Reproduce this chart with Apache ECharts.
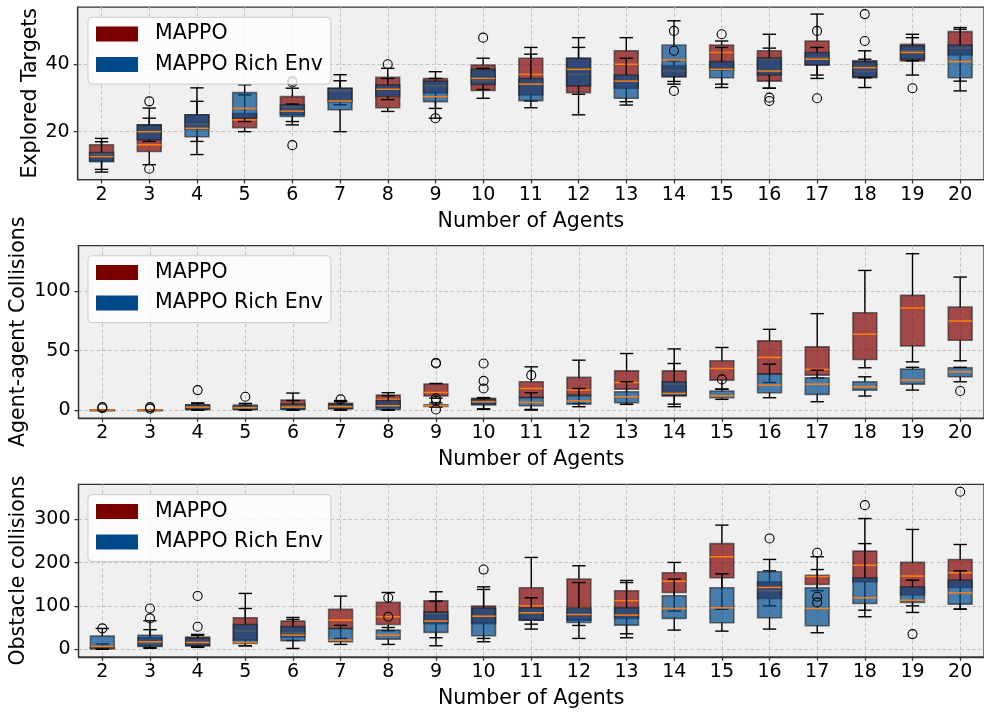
<!DOCTYPE html>
<html>
<head>
<meta charset="utf-8">
<script src="https://cdn.jsdelivr.net/npm/echarts@6/dist/echarts.min.js"></script>
<style>
html, body { margin: 0; padding: 0; background: #ffffff; }
#chart { width: 984px; height: 712px; }
</style>
</head>
<body>
<div id="chart"></div>
<script>
// ---------------- DATA ----------------
const categories = [2, 3, 4, 5, 6, 7, 8, 9, 10, 11, 12, 13, 14, 15, 16, 17, 18, 19, 20];
const seriesNames = ['MAPPO', 'MAPPO Rich Env'];
const xAxisTitle = 'Number of Agents';
const yTitles = ['Explored Targets', 'Agent-agent Collisions', 'Obstacle collisions'];
const yTicksTargets = [20, 40];
const yTicksAgent = [0, 50, 100];
const yTicksObstacle = [0, 100, 200, 300];

// each entry: [whisker low, Q1, median, Q3, whisker high]
const targetsMappo = [
  [8.8, 11.4, 13.4, 16.1, 18.0], [10.2, 14.1, 16.1, 22.0, 27.0], [17.1, 20.8, 22.2, 25.0, 29.0],
  [20.0, 21.2, 23.5, 25.4, 30.9], [22.0, 25.0, 27.4, 30.4, 32.9], [28.0, 28.9, 32.2, 32.9, 35.1],
  [26.0, 27.1, 30.4, 36.1, 38.8], [26.9, 31.5, 33.6, 35.8, 37.8], [29.9, 32.2, 35.0, 39.8, 41.8],
  [29.1, 30.9, 37.0, 41.8, 45.0], [25.0, 31.6, 37.0, 41.8, 47.9], [28.9, 32.9, 40.0, 44.0, 47.9],
  [34.1, 36.3, 38.1, 39.5, 41.0], [34.1, 38.3, 43.5, 45.7, 46.9], [32.9, 35.0, 41.6, 44.0, 48.9],
  [35.8, 39.8, 42.0, 46.9, 54.9], [33.1, 36.0, 38.0, 41.0, 44.0], [36.8, 41.0, 44.0, 45.9, 48.9],
  [35.0, 42.8, 44.8, 49.7, 50.9]
];
const targetsMappoOutliers = [
  [3, 9.0], [6, 16.0], [9, 24.0], [10, 47.9], [14, 44.0], [14, 49.9], [14, 32.1], [15, 48.9],
  [16, 30.1], [16, 29.1], [17, 29.9], [18, 54.9], [18, 46.9], [19, 32.9]
];
const targetsRich = [
  [8.0, 11.1, 12.6, 13.8, 17.0], [17.1, 17.6, 20.0, 22.0, 24.0], [13.2, 18.5, 21.0, 25.0, 33.0],
  [23.0, 24.0, 26.9, 31.6, 33.9], [23.0, 24.5, 26.1, 28.0, 28.2], [20.0, 26.5, 29.1, 32.9, 36.9],
  [29.5, 30.4, 32.6, 33.9, 35.8], [24.0, 28.9, 30.4, 35.0, 35.8], [32.5, 34.0, 35.8, 38.5, 38.8],
  [27.1, 29.2, 34.1, 35.8, 43.0], [31.1, 33.6, 38.5, 41.8, 45.0], [27.9, 29.9, 35.0, 36.8, 41.8],
  [34.9, 36.3, 41.3, 45.7, 52.9], [33.1, 36.0, 38.5, 40.8, 45.0], [32.9, 36.8, 38.0, 41.9, 44.8],
  [36.8, 39.8, 41.5, 43.5, 45.0], [36.0, 36.3, 39.0, 40.8, 41.5], [41.0, 41.5, 43.5, 45.5, 47.9],
  [32.1, 36.0, 40.8, 45.7, 50.4]
];
const targetsRichOutliers = [
  [3, 29.0], [6, 34.6], [6, 35.1], [8, 40.0], [17, 49.9]
];

const agentMappo = [
  [0, 0, 0, 0, 0], [0, 0, 0, 0, 0], [0, 0.5, 2.0, 4.2, 5.6],
  [0, 0.5, 1.5, 3.0, 4.0], [0, 1.0, 3.6, 8.4, 14.3], [0, 1.5, 3.5, 5.6, 8.0],
  [0, 2.0, 9.0, 12.6, 14.6], [10.0, 11.8, 14.8, 21.8, 22.4], [1.0, 5.0, 7.5, 9.8, 10.5],
  [0, 10.6, 18.2, 23.8, 36.4], [5.6, 12.6, 16.8, 27.5, 42.0], [4.8, 17.6, 23.2, 33.0, 47.6],
  [2.8, 12.0, 21.8, 33.0, 51.5], [17.6, 25.2, 35.0, 41.5, 52.7], [23.2, 30.3, 44.3, 58.3, 68.0],
  [27.0, 29.4, 34.2, 53.2, 81.2], [35.6, 42.6, 63.9, 82.0, 117.6], [40.6, 54.0, 86.0, 96.6, 131.7],
  [41.5, 58.8, 75.0, 86.8, 112.0]
];
const agentMappoOutliers = [
  [2, 1.5], [3, 1.2], [7, 9.0], [9, 39.2], [9, 39.8], [10, 39.2], [10, 24.6], [10, 18.2]
];
const agentRich = [
  [0, 0, 0, 0, 0], [0, 0, 0, 0, 0], [0, 0.5, 2.5, 4.5, 6.0],
  [0, 0.5, 2.0, 4.2, 5.6], [0, 0.5, 2.5, 5.0, 8.0], [0, 1.0, 2.8, 5.0, 7.0],
  [0, 0.5, 3.6, 8.0, 12.0], [2.5, 3.0, 3.6, 4.5, 6.0], [0.6, 4.2, 7.0, 9.0, 9.8],
  [0.5, 3.6, 6.4, 10.6, 14.6], [2.8, 5.0, 7.6, 12.0, 18.2], [4.8, 6.2, 11.2, 15.4, 23.8],
  [5.0, 12.0, 14.0, 23.8, 39.2], [9.0, 10.4, 12.0, 16.0, 17.6], [10.4, 14.6, 21.0, 30.3, 38.7],
  [7.0, 13.2, 21.8, 27.2, 33.6], [11.8, 16.8, 19.6, 23.8, 28.0], [16.8, 21.8, 25.2, 34.5, 36.0],
  [23.8, 28.0, 32.2, 35.6, 36.0]
];
const agentRichOutliers = [
  [2, 2.5], [3, 2.5], [4, 16.8], [5, 11.2], [9, 9.8], [9, 7.8], [9, 0.5], [11, 29.4], [15, 25.8], [20, 16.0]
];

const obstacleMappo = [
  [0, 0.5, 3.0, 6.0, 12.0], [2.0, 8.0, 13.0, 27.0, 45.0], [4.0, 8.0, 15.0, 28.0, 34.0],
  [7.7, 20.8, 42.4, 72.5, 128.8], [20.0, 28.0, 37.8, 64.8, 73.2], [24.7, 47.8, 67.0, 91.8, 122.6],
  [42.4, 57.0, 74.8, 108.0, 131.0], [26.2, 59.0, 82.5, 111.8, 132.6], [24.7, 59.0, 77.0, 99.5, 144.0],
  [57.8, 67.0, 100.0, 142.0, 212.0], [24.7, 67.0, 95.6, 162.0, 192.8], [35.5, 71.0, 112.0, 135.0, 158.8],
  [88.0, 131.0, 157.0, 176.6, 200.5], [92.0, 165.0, 213.6, 244.0, 286.8], [100.0, 117.0, 135.0, 155.7, 181.0],
  [135.0, 149.6, 168.0, 171.0, 184.0], [90.0, 155.7, 194.0, 226.7, 302.0], [100.0, 125.0, 168.9, 200.5, 276.8],
  [92.5, 142.6, 176.6, 207.4, 242.0]
];
const obstacleMappoOutliers = [
  [2, 48.0], [3, 71.0], [4, 51.7], [17, 121.0], [17, 108.0], [18, 333.0], [20, 364.0]
];
const obstacleRich = [
  [0, 2.0, 6.2, 30.0, 47.8], [3.0, 6.0, 17.0, 32.0, 65.5], [5.0, 8.0, 15.4, 25.0, 32.0],
  [7.7, 13.0, 15.4, 57.0, 94.0], [1.5, 19.3, 32.4, 52.0, 68.6], [10.8, 17.0, 20.8, 47.8, 55.0],
  [10.8, 23.0, 32.4, 44.0, 50.0], [7.7, 38.6, 64.8, 86.0, 111.0], [17.0, 30.8, 76.0, 95.0, 138.0],
  [46.3, 67.0, 84.0, 95.6, 118.7], [54.7, 61.7, 80.0, 95.6, 154.0], [26.2, 55.5, 78.6, 95.6, 154.0],
  [44.0, 71.0, 94.0, 123.4, 162.0], [41.6, 61.0, 95.6, 142.0, 174.0], [46.3, 72.5, 142.6, 179.0, 207.4],
  [37.8, 54.0, 94.0, 142.0, 213.6], [74.8, 105.6, 118.7, 165.0, 244.0], [84.8, 108.0, 113.0, 144.0, 159.6],
  [92.5, 104.0, 130.0, 159.6, 181.0]
];
const obstacleRichOutliers = [
  [3, 94.0], [4, 123.0], [8, 118.7], [8, 74.8], [10, 184.0], [16, 256.0], [17, 222.8], [19, 34.7]
];

// ---------------- STYLE / LAYOUT ----------------
const FONT = 'DejaVu Sans';
const RED_FILL = 'rgba(128,0,0,0.7)';
const BLUE_FILL = 'rgba(0,74,140,0.7)';
const RED_LEGEND = '#7b0000';
const BLUE_LEGEND = '#004a8c';
const panelTops = [7, 245.5, 484.3];
const panelHeight = 172.5;
const gridLeft = 77.7;
const gridWidth = 911.5;
const yRanges = [[5.8, 57.0], [-6.7, 138.6], [-17.8, 381.2]];
const yNameGaps = [37, 49.5, 49.5];
const yTickSets = [yTicksTargets, yTicksAgent, yTicksObstacle];

function boxRenderer(fill) {
  return function (params, api) {
    const x = api.value(0);
    const pLo = api.coord([x, api.value(1)]);
    const pQ1 = api.coord([x, api.value(2)]);
    const pMed = api.coord([x, api.value(3)]);
    const pQ3 = api.coord([x, api.value(4)]);
    const pHi = api.coord([x, api.value(5)]);
    const band = api.size([1, 0])[0];
    const bw = band * 0.5;
    const cw = band * 0.28;
    const cx = pMed[0];
    const wStyle = { stroke: '#000', lineWidth: 1.4 };
    return {
      type: 'group',
      children: [
        { type: 'rect', shape: { x: cx - bw / 2, y: pQ3[1], width: bw, height: Math.max(pQ1[1] - pQ3[1], 0.5) },
          style: { fill: fill, stroke: 'rgba(30,30,30,0.6)', lineWidth: 1.6 } },
        { type: 'line', shape: { x1: cx, y1: pQ3[1], x2: cx, y2: pHi[1] }, style: wStyle },
        { type: 'line', shape: { x1: cx, y1: pQ1[1], x2: cx, y2: pLo[1] }, style: wStyle },
        { type: 'line', shape: { x1: cx - cw / 2, y1: pHi[1], x2: cx + cw / 2, y2: pHi[1] }, style: wStyle },
        { type: 'line', shape: { x1: cx - cw / 2, y1: pLo[1], x2: cx + cw / 2, y2: pLo[1] }, style: wStyle },
        { type: 'line', shape: { x1: cx - bw / 2, y1: pMed[1], x2: cx + bw / 2, y2: pMed[1] },
          style: { stroke: '#ff7f0e', lineWidth: 1.5 } }
      ]
    };
  };
}

function boxSeries(name, stats, g, fill, legendColor) {
  return {
    name: name,
    type: 'custom',
    xAxisIndex: g,
    yAxisIndex: g,
    renderItem: boxRenderer(fill),
    itemStyle: { color: legendColor },
    encode: { x: 0, y: [1, 2, 3, 4, 5] },
    data: stats.map((s, i) => [categories[i]].concat(s)),
    clip: false,
    silent: true
  };
}

function outlierSeries(name, pts, g) {
  return {
    name: name,
    type: 'scatter',
    xAxisIndex: g,
    yAxisIndex: g,
    symbol: 'circle',
    symbolSize: 9,
    itemStyle: { color: 'rgba(0,0,0,0)', borderColor: '#000', borderWidth: 1.1, opacity: 1 },
    data: pts,
    silent: true
  };
}

const panels = [
  [targetsMappo, targetsMappoOutliers, targetsRich, targetsRichOutliers],
  [agentMappo, agentMappoOutliers, agentRich, agentRichOutliers],
  [obstacleMappo, obstacleMappoOutliers, obstacleRich, obstacleRichOutliers]
];

const grids = [], xAxes = [], yAxes = [], legends = [], series = [];
const dash = { color: '#bdbdbd', width: 0.9, type: [3.5, 2.5] };
const axisLineStyle = { color: '#333333', width: 1.25 };

panels.forEach((p, g) => {
  grids.push({
    left: gridLeft, top: panelTops[g], width: gridWidth, height: panelHeight,
    show: true, backgroundColor: '#f0f0f0', borderColor: '#333333', borderWidth: 1.25
  });
  xAxes.push({
    type: 'value', gridIndex: g, min: 1.5, max: 20.5, splitNumber: 19,
    name: xAxisTitle, nameLocation: 'middle', nameGap: 31.5, nameMoveOverlap: false,
    nameTextStyle: { fontFamily: FONT, fontSize: 20.5, color: '#000' },
    axisLine: { show: true, onZero: false, lineStyle: axisLineStyle },
    axisTick: { show: true, length: 4, lineStyle: axisLineStyle, customValues: categories },
    axisLabel: { fontFamily: FONT, fontSize: 19, color: '#000', margin: 6, customValues: categories },
    splitLine: { show: true, lineStyle: dash }
  });
  yAxes.push({
    type: 'value', gridIndex: g, min: yRanges[g][0], max: yRanges[g][1], splitNumber: 3,
    name: yTitles[g], nameLocation: 'middle', nameGap: yNameGaps[g], nameMoveOverlap: false,
    nameTextStyle: { fontFamily: FONT, fontSize: 20.5, color: '#000' },
    axisLine: { show: true, onZero: false, lineStyle: axisLineStyle },
    axisTick: { show: true, length: 4, lineStyle: axisLineStyle, customValues: yTickSets[g] },
    axisLabel: { fontFamily: FONT, fontSize: 19, color: '#000', margin: 8, customValues: yTickSets[g] },
    splitLine: { show: true, lineStyle: dash }
  });
  legends.push({
    left: 88, top: panelTops[g] + 10.3, orient: 'vertical',
    icon: 'rect', itemWidth: 42, itemHeight: 15, itemGap: 9.5,
    padding: [6.3, 8, 9, 8],
    backgroundColor: 'rgba(255,255,255,0.8)', borderColor: '#cccccc', borderWidth: 1, borderRadius: 4,
    textStyle: { fontFamily: FONT, fontSize: 20.5, color: '#000', padding: [0, 0, 0, 12] },
    selectedMode: false,
    data: [
      { name: seriesNames[0], itemStyle: { color: RED_LEGEND } },
      { name: seriesNames[1], itemStyle: { color: BLUE_LEGEND } }
    ]
  });
  series.push(boxSeries(seriesNames[0], p[0], g, RED_FILL, RED_LEGEND));
  series.push(outlierSeries(seriesNames[0] + ' outliers', p[1], g));
  series.push(boxSeries(seriesNames[1], p[2], g, BLUE_FILL, BLUE_LEGEND));
  series.push(outlierSeries(seriesNames[1] + ' outliers', p[3], g));
});

const chart = echarts.init(document.getElementById('chart'), null, { renderer: 'canvas' });
chart.setOption({
  animation: false,
  backgroundColor: '#ffffff',
  textStyle: { fontFamily: FONT },
  grid: grids,
  xAxis: xAxes,
  yAxis: yAxes,
  legend: legends,
  series: series
});
</script>
</body>
</html>
